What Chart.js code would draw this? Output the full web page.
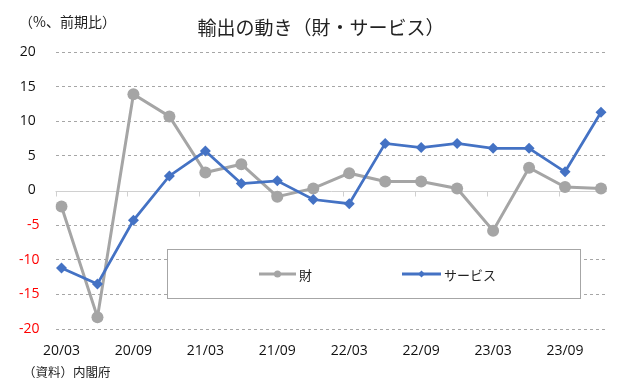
<!DOCTYPE html>
<html>
<head>
<meta charset="utf-8">
<script src="https://cdn.jsdelivr.net/npm/chart.js@4.4.1/dist/chart.umd.min.js"></script>
<style>
  html, body { margin: 0; padding: 0; background: #fff; }
  #wrap { width: 628px; height: 390px; position: relative; }
</style>
</head>
<body>
<div id="wrap"><canvas id="c" width="628" height="390"></canvas></div>
<script>
// ---- data ----
const categories = ['20/03','20/06','20/09','20/12','21/03','21/06','21/09','21/12','22/03','22/06','22/09','22/12','23/03','23/06','23/09','23/12'];
const goods    = [-2.3, -18.3, 13.9, 10.7, 2.6, 3.8, -0.9, 0.3, 2.5, 1.3, 1.3, 0.3, -5.8, 3.3, 0.5, 0.3];
const services = [-11.2, -13.5, -4.3, 2.1, 5.7, 1.0, 1.4, -1.3, -1.9, 6.8, 6.2, 6.8, 6.1, 6.1, 2.7, 11.3];
const seriesNames = ['財', 'サービス'];
const yTicks = [-20, -15, -10, -5, 0, 5, 10, 15, 20];
const titleText = '輸出の動き（財・サービス）';
const unitText = '（%、前期比）';
const sourceText = '（資料）内閣府';

const GRAY = '#A5A5A5';
const BLUE = '#4472C4';
const CJK = '"Noto Sans CJK JP", "Noto Sans", sans-serif';
const NUM = '"Open Sans", "Noto Sans", sans-serif';

const decor = {
  id: 'decor',
  beforeDatasetsDraw(chart) {
    const {ctx, chartArea, scales} = chart;
    const x = scales.x, y = scales.y;
    const y0 = Math.round(y.getPixelForValue(0)) + 0.5;
    ctx.save();
    ctx.strokeStyle = '#d0d0d0';
    ctx.lineWidth = 1;
    ctx.beginPath();
    ctx.moveTo(chartArea.left, y0);
    ctx.lineTo(chartArea.right, y0);
    for (let k = 0; k < categories.length; k += 2) {
      const px = Math.round(x.getPixelForValue(k - 1/6)) + 0.5;
      ctx.moveTo(px, y0);
      ctx.lineTo(px, y0 + 5);
    }
    ctx.stroke();
    ctx.restore();
  },
  afterDatasetsDraw(chart) {
    const {ctx} = chart;
    ctx.save();
    // legend box
    ctx.fillStyle = '#ffffff';
    ctx.fillRect(167, 249, 414, 50);
    ctx.strokeStyle = '#a6a6a6';
    ctx.lineWidth = 1;
    ctx.strokeRect(167.5, 249.5, 413, 49);
    const ly = 274;
    // goods entry
    ctx.strokeStyle = GRAY; ctx.lineWidth = 3;
    ctx.beginPath(); ctx.moveTo(259, ly); ctx.lineTo(296, ly); ctx.stroke();
    ctx.fillStyle = GRAY;
    ctx.beginPath(); ctx.arc(277.5, ly, 3.5, 0, Math.PI * 2); ctx.fill();
    // services entry
    ctx.strokeStyle = BLUE; ctx.lineWidth = 3;
    ctx.beginPath(); ctx.moveTo(402, ly); ctx.lineTo(441, ly); ctx.stroke();
    ctx.fillStyle = BLUE;
    ctx.beginPath();
    ctx.moveTo(421.5, ly - 3.5); ctx.lineTo(425, ly); ctx.lineTo(421.5, ly + 3.5); ctx.lineTo(418, ly);
    ctx.closePath(); ctx.fill();
    ctx.fillStyle = '#222';
    ctx.font = '13px ' + CJK;
    ctx.textBaseline = 'middle';
    ctx.textAlign = 'left';
    ctx.fillText(seriesNames[0], 299, ly + 1);
    ctx.fillText(seriesNames[1], 444, ly + 1);
    ctx.restore();
  },
  afterDraw(chart) {
    const {ctx} = chart;
    ctx.save();
    ctx.fillStyle = '#222';
    ctx.textBaseline = 'middle';
    ctx.textAlign = 'center';
    ctx.font = '19px ' + CJK;
    ctx.fillText(titleText, 321, 28);
    ctx.textAlign = 'left';
    ctx.font = '14px ' + CJK;
    ctx.fillText(unitText, 19, 22);
    ctx.font = '12.5px ' + CJK;
    ctx.fillText(sourceText, 23, 372);
    ctx.restore();
  }
};

new Chart(document.getElementById('c'), {
  type: 'line',
  data: {
    datasets: [
      {
        label: seriesNames[0],
        data: goods.map((v, i) => ({x: i, y: v})),
        borderColor: GRAY,
        backgroundColor: GRAY,
        borderWidth: 3,
        pointStyle: 'circle',
        pointRadius: 6,
        pointBorderWidth: 0,
        pointBackgroundColor: GRAY,
        tension: 0,
        order: 1
      },
      {
        label: seriesNames[1],
        data: services.map((v, i) => ({x: i, y: v})),
        borderColor: BLUE,
        backgroundColor: BLUE,
        borderWidth: 2.75,
        pointStyle: 'rectRot',
        pointRadius: 5.5,
        pointBorderWidth: 0,
        pointBackgroundColor: BLUE,
        tension: 0,
        order: 0
      }
    ]
  },
  options: {
    responsive: false,
    animation: false,
    events: [],
    layout: { padding: { left: 0, right: 21, top: 52, bottom: 0 } },
    plugins: { legend: { display: false }, tooltip: { enabled: false }, title: { display: false } },
    scales: {
      x: {
        type: 'linear',
        min: -1/6,
        max: 15 + 1/6,
        grid: { display: false, drawTicks: false },
        border: { display: false },
        afterBuildTicks(scale) {
          scale.ticks = categories.map((c, i) => ({value: i})).filter(t => t.value % 2 === 0);
        },
        afterFit(scale) { scale.height = 61; },
        ticks: {
          autoSkip: false,
          maxRotation: 0,
          padding: 14,
          color: '#111',
          font: { family: NUM, size: 14 },
          callback: (v) => categories[v] || ''
        }
      },
      y: {
        min: -20,
        max: 20,
        afterBuildTicks(scale) { scale.ticks = yTicks.map(v => ({value: v})); },
        afterFit(scale) { scale.width = 55.5; },
        grid: {
          drawTicks: false,
          color: (ctx) => (ctx.tick && ctx.tick.value === 0) ? 'rgba(0,0,0,0)' : '#a6a6a6',
          lineWidth: 1
        },
        border: { display: false, dash: [3, 3] },
        ticks: {
          padding: 16,
          font: { family: NUM, size: 14 },
          color: (ctx) => (ctx.tick && ctx.tick.value < 0) ? '#ff0000' : '#111',
          callback: (v) => v < 0 ? String(v) : v + ' '
        }
      }
    }
  },
  plugins: [decor]
});
</script>
</body>
</html>
